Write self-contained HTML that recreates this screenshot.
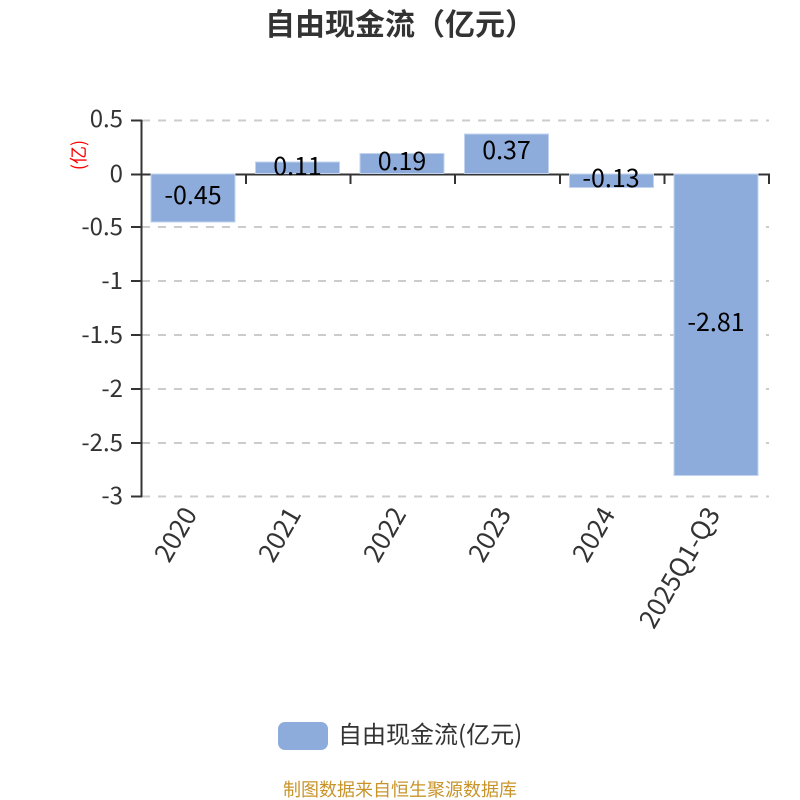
<!DOCTYPE html>
<html><head><meta charset="utf-8"><style>
html,body{margin:0;padding:0;background:#fff}
svg{display:block}
text{font-family:"Noto Sans CJK SC",sans-serif}
</style></head><body>
<svg width="800" height="800" viewBox="0 0 800 800" xmlns="http://www.w3.org/2000/svg">
<text x="265" y="35" font-size="30" font-weight="700" fill="#333">自由现金流（亿元）</text>
<g stroke="#ccc" stroke-width="2" stroke-dasharray="8 8" fill="none">
<path d="M142 120.500H769M142 227H769M142 281H769M142 335H769M142 389H769M142 443H769M142 496.500H769"/>
</g>
<g stroke="#333" stroke-width="2" fill="none">
<path d="M141.500 120V497"/>
<path d="M141 174.500H770"/>
<path d="M131 120.500H142M131 174.500H142M131 227H142M131 281H142M131 335H142M131 389H142M131 443H142M131 496.500H142"/>
<path d="M246 174V184M350.500 174V184M455 174V184M560 174V184M664.500 174V184M769 174V184"/>
</g>
<g fill="#8eacdb" stroke="#c2d3ee" stroke-width="1">
<rect x="151" y="174" width="84" height="48"/>
<rect x="255.500" y="162" width="84" height="11.500"/>
<rect x="360" y="153.500" width="84" height="20"/>
<rect x="464.500" y="134" width="84" height="39.500"/>
<rect x="569.500" y="174" width="84" height="13.500"/>
<rect x="674" y="174" width="84" height="301.500"/>
</g>
<g font-size="24" fill="#333" text-anchor="end">
<text x="123" y="127">0.5</text>
<text x="123" y="182">0</text>
<text x="123" y="235">-0.5</text>
<text x="123" y="289">-1</text>
<text x="123" y="343">-1.5</text>
<text x="123" y="397">-2</text>
<text x="123" y="451">-2.5</text>
<text x="123" y="504">-3</text>
</g>
<text transform="translate(85 155) rotate(-90)" text-anchor="middle" font-size="18" fill="#f00">(亿)</text>
<g font-size="25" fill="#000" text-anchor="middle">
<text x="193" y="204">-0.45</text>
<text x="297.500" y="175">0.11</text>
<text x="402" y="170">0.19</text>
<text x="506.500" y="159">0.37</text>
<text x="611" y="187">-0.13</text>
<text x="716" y="331">-2.81</text>
</g>
<g font-size="26" fill="#333" text-anchor="end">
<text transform="translate(198 514) rotate(-60)">2020</text>
<text transform="translate(302 514) rotate(-60)">2021</text>
<text transform="translate(407 514) rotate(-60)">2022</text>
<text transform="translate(512 514) rotate(-60)">2023</text>
<text transform="translate(616 514) rotate(-60)">2024</text>
<text transform="translate(721 514) rotate(-60)">2025Q1-Q3</text>
</g>
<rect x="278" y="722" width="50" height="28" rx="7" ry="7" fill="#8eacdb"/>
<text x="338" y="743" font-size="24" fill="#333">自由现金流(亿元)</text>
<text x="400" y="796" text-anchor="middle" font-size="18" fill="#c8942a">制图数据来自恒生聚源数据库</text>
</svg>
</body></html>
